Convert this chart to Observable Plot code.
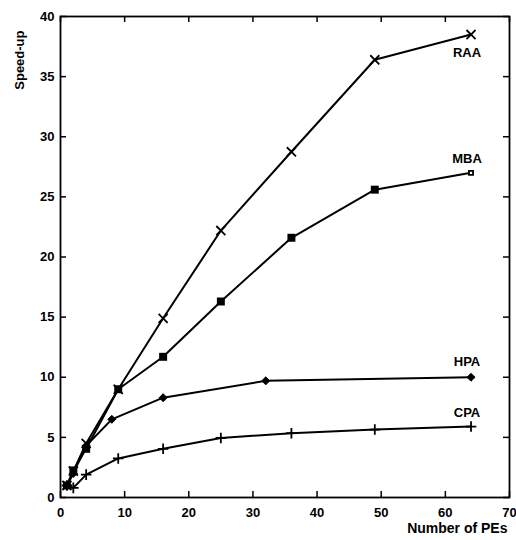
<!DOCTYPE html>
<html>
<head>
<meta charset="utf-8">
<script src="https://cdn.jsdelivr.net/npm/d3@7"></script>
<script src="https://cdn.jsdelivr.net/npm/@observablehq/plot@0.6"></script>
<style>
  html, body { margin: 0; padding: 0; background: #fff; }
</style>
</head>
<body>
<div id="chart"></div>
<script>
// Data
const raaPEs = [1, 2, 4, 9, 16, 25, 36, 49, 64];
const raaSpeedup = [1.0, 2.2, 4.5, 9.0, 14.9, 22.2, 28.75, 36.4, 38.5];
const mbaPEs = [1, 2, 4, 9, 16, 25, 36, 49, 64];
const mbaSpeedup = [1.0, 2.25, 4.05, 9.0, 11.7, 16.3, 21.6, 25.6, 27.0];
const hpaPEs = [1, 2, 4, 8, 16, 32, 64];
const hpaSpeedup = [1.0, 2.0, 4.3, 6.5, 8.3, 9.7, 10.0];
const cpaPEs = [1, 2, 4, 9, 16, 25, 36, 49, 64];
const cpaSpeedup = [1.0, 0.8, 1.9, 3.25, 4.05, 4.95, 5.35, 5.65, 5.9];
const seriesNames = ["RAA", "MBA", "HPA", "CPA"];
const xTicks = [0, 10, 20, 30, 40, 50, 60, 70];
const yTicks = [0, 5, 10, 15, 20, 25, 30, 35, 40];
const xLabel = "Number of PEs";
const yLabel = "Speed-up";

const toRows = (xs, ys, name) => xs.map((x, i) => ({x, y: ys[i], name}));
const raa = toRows(raaPEs, raaSpeedup, seriesNames[0]);
const mba = toRows(mbaPEs, mbaSpeedup, seriesNames[1]);
const hpa = toRows(hpaPEs, hpaSpeedup, seriesNames[2]);
const cpa = toRows(cpaPEs, cpaSpeedup, seriesNames[3]);
const lastOf = a => a[a.length - 1];

const W = 516, H = 540, ML = 60, MR = 7, MT = 16, MB = 43;
const innerW = W - ML - MR, innerH = H - MT - MB, tick = 6;

const lineOpts = {x: "x", y: "y", stroke: "black", strokeWidth: 2};
const labelOpts = {x: "x", y: "y", text: "name", fontSize: 13, fontWeight: "bold", fill: "black", dx: -4};
const tickStyle = {stroke: "black", strokeWidth: 1.5};

const chart = Plot.plot({
  width: W,
  height: H,
  marginLeft: ML,
  marginRight: MR,
  marginTop: MT,
  marginBottom: MB,
  style: {fontFamily: "'Liberation Sans', Arial, sans-serif", fontSize: "13px", fontWeight: "bold", color: "black", background: "white"},
  x: {domain: [0, 70]},
  y: {domain: [0, 40]},
  marks: [
    Plot.frame({stroke: "black", strokeWidth: 1.8}),
    // inward tick marks on all four sides
    Plot.tickX(xTicks, {x: d => d, insetTop: innerH - tick, ...tickStyle}),
    Plot.tickX(xTicks, {x: d => d, insetBottom: innerH - tick, ...tickStyle}),
    Plot.tickY(yTicks, {y: d => d, insetRight: innerW - tick, ...tickStyle}),
    Plot.tickY(yTicks, {y: d => d, insetLeft: innerW - tick, ...tickStyle}),
    // tick labels
    Plot.axisX(xTicks, {anchor: "bottom", tickSize: 0, tickPadding: 10, label: null, fontSize: 13, fontWeight: "bold"}),
    Plot.axisY(yTicks, {anchor: "left", tickSize: 0, tickPadding: 6, label: null, fontSize: 13, fontWeight: "bold"}),
    Plot.line(raa, lineOpts),
    Plot.line(mba, lineOpts),
    Plot.line(hpa, lineOpts),
    Plot.line(cpa, lineOpts),
    Plot.dot(raa, {x: "x", y: "y", symbol: "times", r: 4.2, stroke: "black", strokeWidth: 1.8}),
    Plot.dot(mba.slice(0, -1), {x: "x", y: "y", symbol: "square", r: 4.5, fill: "black"}),
    Plot.dot([lastOf(mba)], {x: "x", y: "y", symbol: "square2", r: 2.6, stroke: "black", strokeWidth: 1.8, fill: "white"}),
    Plot.dot(hpa, {x: "x", y: "y", symbol: "diamond2", r: 3.6, fill: "black", stroke: "black", strokeWidth: 1}),
    Plot.dot(cpa, {x: "x", y: "y", symbol: "plus", r: 3.5, stroke: "black", strokeWidth: 1.8}),
    Plot.text([lastOf(raa)], {...labelOpts, dy: 18}),
    Plot.text([lastOf(mba)], {...labelOpts, dy: -14}),
    Plot.text([lastOf(hpa)], {...labelOpts, dy: -15}),
    Plot.text([lastOf(cpa)], {...labelOpts, dy: -14}),
    Plot.text([yLabel], {frameAnchor: "top-left", rotate: -90, textAnchor: "end", dx: -46, dy: 14, fontSize: 13, fontWeight: "bold"}),
    Plot.text([xLabel], {frameAnchor: "bottom-right", textAnchor: "end", dx: -2, dy: 35, fontSize: 14, fontWeight: "bold", wordSpacing: "4px"})
  ]
});
document.getElementById("chart").appendChild(chart);
</script>
</body>
</html>
